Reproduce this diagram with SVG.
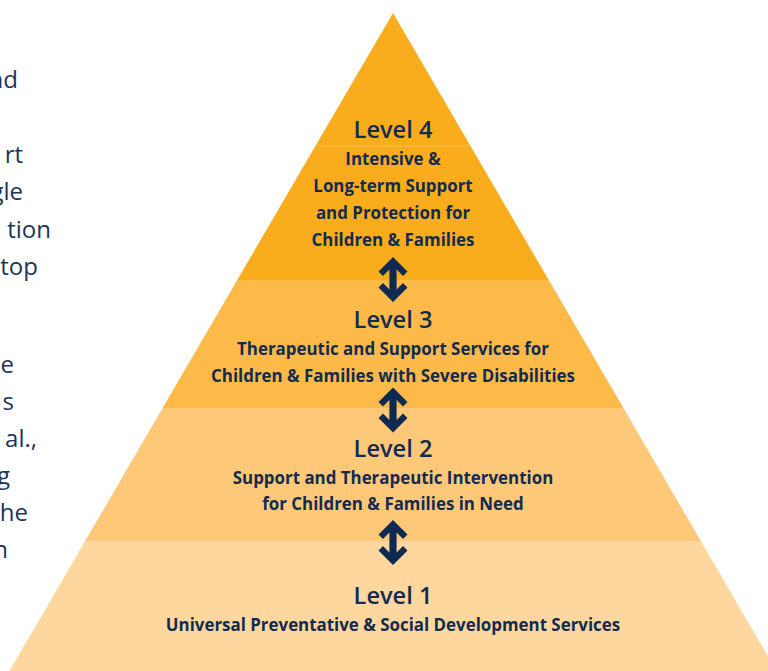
<svg xmlns="http://www.w3.org/2000/svg" xmlns:xlink="http://www.w3.org/1999/xlink" width="768" height="671" viewBox="0 0 768 671">
  <style>
    .title { font-family: "Open Sans", "Noto Sans", sans-serif; font-weight: 600; font-size: 23.6px; fill: #132B4F; text-anchor: middle; }
    .desc { font-family: "Open Sans", "Noto Sans", sans-serif; font-weight: 700; font-size: 16.9px; fill: #132B4F; text-anchor: middle; }
    .para { font-family: "Open Sans", "Noto Sans", sans-serif; font-weight: 400; font-size: 24px; fill: #1D3557; text-anchor: end; }
    .arrow { fill: #0F2A50; }
  </style>
  <defs>
    <!-- thick double-headed arrow, centred on the origin -->
    <path id="dbl-arrow" d="M0,-22.5 L14.5,-8 L10,-3.5 L3.6,-10 L3.6,10 L10,3.5 L14.5,8 L0,22.5 L-14.5,8 L-10,3.5 L-3.6,10 L-3.6,-10 L-10,-3.5 L-14.5,-8 Z"/>
  </defs>
  <rect width="768" height="671" fill="#FFFFFF"/>

  <!-- tail end of the paragraph running along the left margin -->
  <g id="side-text">
    <text class="para" x="18" y="88">nd</text>
    <text class="para" x="23" y="163">rt</text>
    <text class="para" x="23" y="200">gle</text>
    <text class="para" x="51" y="238">tion</text>
    <text class="para" x="38" y="275">top</text>
    <text class="para" x="14" y="373">e</text>
    <text class="para" x="14" y="410">s</text>
    <text class="para" x="37" y="447">al.,</text>
    <text class="para" x="10" y="484">g</text>
    <text class="para" x="28" y="521">he</text>
    <text class="para" x="8" y="558">n</text>
  </g>

  <!-- pyramid tiers, apex at (393,13), edges slope 0.583 -->
  <g id="level-1">
    <polygon points="85.2,541 700.8,541 776.6,671 9.4,671" fill="#FDD79E"/>
    <text class="title" x="393" y="604">Level 1</text>
    <text class="desc" x="393" y="631">Universal Preventative &amp; Social Development Services</text>
  </g>
  <g id="level-2">
    <polygon points="162.6,408 623.4,408 700.8,541 85.2,541" fill="#FDC978"/>
    <text class="title" x="393" y="457">Level 2</text>
    <text class="desc" x="393" y="484">Support and Therapeutic Intervention</text>
    <text class="desc" x="393" y="510">for Children &amp; Families in Need</text>
  </g>
  <g id="level-3">
    <polygon points="237.3,280 548.7,280 623.4,408 162.6,408" fill="#FDBA48"/>
    <text class="title" x="393" y="328">Level 3</text>
    <text class="desc" x="393" y="355">Therapeutic and Support Services for</text>
    <text class="desc" x="393" y="382">Children &amp; Families with Severe Disabilities</text>
  </g>
  <g id="level-4">
    <polygon points="393,13 548.7,280 237.3,280" fill="#F9AD1C"/>
    <line x1="315.5" y1="146" x2="470.5" y2="146" stroke="#FBBF52" stroke-width="1"/>
    <text class="title" x="393" y="138">Level 4</text>
    <text class="desc" x="393" y="165">Intensive &amp;</text>
    <text class="desc" x="393" y="192">Long-term Support</text>
    <text class="desc" x="393" y="219">and Protection for</text>
    <text class="desc" x="393" y="246">Children &amp; Families</text>
  </g>

  <!-- two-way links between neighbouring tiers -->
  <g id="connectors" class="arrow">
    <use xlink:href="#dbl-arrow" transform="translate(393,279.5)"/>
    <use xlink:href="#dbl-arrow" transform="translate(393,410)"/>
    <use xlink:href="#dbl-arrow" transform="translate(393,542.5)"/>
  </g>
</svg>
